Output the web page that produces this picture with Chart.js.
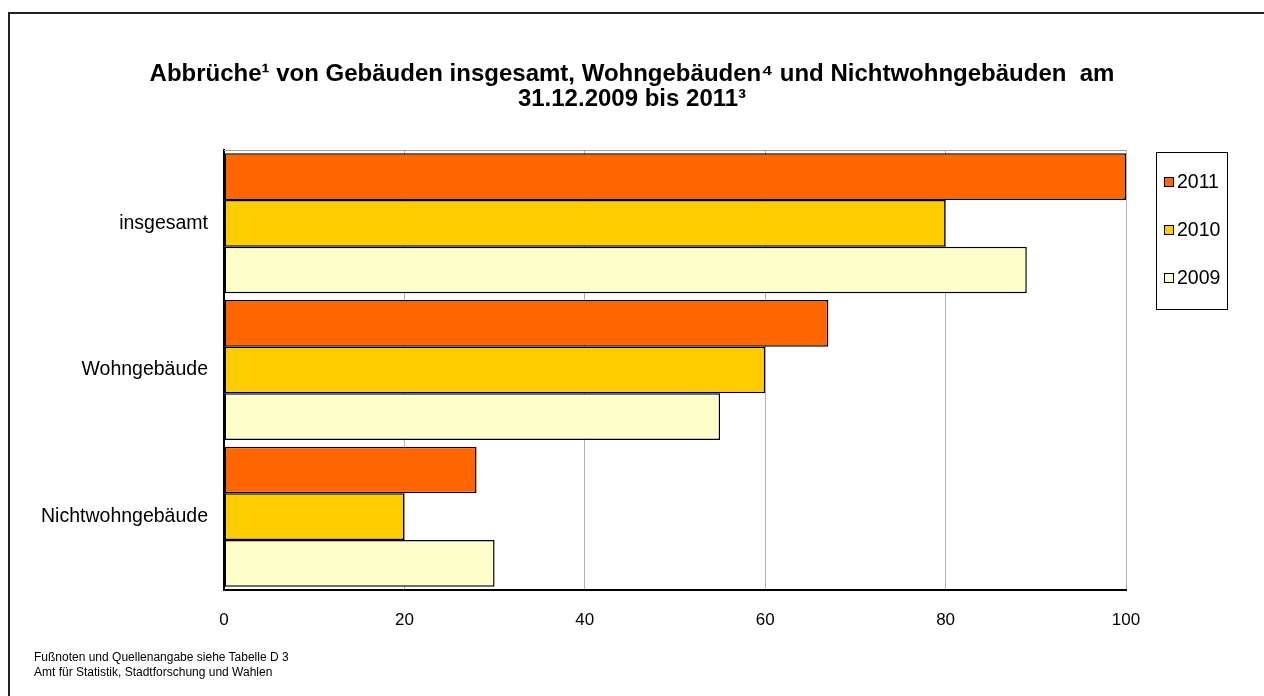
<!DOCTYPE html>
<html>
<head>
<meta charset="utf-8">
<script src="https://cdn.jsdelivr.net/npm/chart.js@4/dist/chart.umd.min.js"></script>
<style>
  html, body { margin: 0; padding: 0; background: #fff; overflow: hidden; }
  #frame { position: absolute; left: 8px; top: 12px; width: 1300px; height: 750px; border: 2px solid #222; box-sizing: border-box; }
  #wrap { position: absolute; left: 0; top: 0; width: 1264px; height: 696px; }
  .foot { position: absolute; left: 34px; font: 12px "Liberation Sans", Arial, sans-serif; color: #000; }
</style>
</head>
<body>
<div id="frame"></div>
<div id="wrap"><canvas id="myChart" width="1264" height="696"></canvas></div>
<div class="foot" style="top:650px">Fußnoten und Quellenangabe siehe Tabelle D 3</div>
<div class="foot" style="top:665px">Amt für Statistik, Stadtforschung und Wahlen</div>
<script>
var categories = ['insgesamt', 'Wohngebäude', 'Nichtwohngebäude'];
var years = ['2011', '2010', '2009'];
var values2011 = [100, 67, 28];
var values2010 = [80, 60, 20];
var values2009 = [89, 55, 30];
var xTicks = [0, 20, 40, 60, 80, 100];

var font = '"Liberation Sans", Arial, sans-serif';

// Rahmen oben am Diagramm + Legende mit Kasten
var extras = {
    id: 'extras',
    afterDraw: function(chart) {
        var c = chart.ctx, a = chart.chartArea;
        c.save();
        c.strokeStyle = '#a0a0a0';
        c.lineWidth = 1;
        c.beginPath();
        c.moveTo(a.left, a.top + 0.5);
        c.lineTo(a.right, a.top + 0.5);
        c.stroke();

        // legend
        c.strokeStyle = '#000';
        c.strokeRect(1156.5, 152.5, 71, 157);
        c.font = '19.5px ' + font;
        c.textBaseline = 'middle';
        chart.data.datasets.forEach(function(ds, i) {
            var y = 182 + i * 48;
            c.fillStyle = ds.backgroundColor;
            c.fillRect(1164, y - 5, 10, 10);
            c.strokeRect(1164.5, y - 4.5, 9, 9);
            c.fillStyle = '#000';
            c.fillText(ds.label, 1177, y + 1);
        });
        c.restore();
    }
};

var ctx = document.getElementById('myChart').getContext('2d');
var myChart = new Chart(ctx, {
    type: 'bar',
    data: {
        labels: categories,
        datasets: [
            { label: years[0], data: values2011, backgroundColor: '#FF6600' },
            { label: years[1], data: values2010, backgroundColor: '#FFCC00' },
            { label: years[2], data: values2009, backgroundColor: '#FFFFCC' }
        ]
    },
    options: {
        indexAxis: 'y',
        responsive: false,
        animation: false,
        layout: { padding: 0 },
        datasets: {
            bar: { borderColor: '#000', borderWidth: 1.5, categoryPercentage: 0.955, barPercentage: 1.0, borderSkipped: false }
        },
        plugins: {
            legend: { display: false },
            tooltip: { enabled: false },
            title: {
                display: true,
                text: ['Abbrüche\u00b9 von Gebäuden insgesamt, Wohngebäuden\u2074 und Nichtwohngebäuden  am', '31.12.2009 bis 2011\u00b3'],
                color: '#000',
                font: { family: font, size: 24, weight: 'bold', lineHeight: 1.05 },
                padding: { top: 62, bottom: 37.6 }
            }
        },
        scales: {
            x: {
                min: 0,
                max: 100,
                afterBuildTicks: function(axis) {
                    axis.ticks = xTicks.map(function(v) { return { value: v }; });
                },
                afterFit: function(axis) { axis.height = 106; },
                grid: { color: '#b0b0b0', drawTicks: false },
                border: { color: '#000', width: 2 },
                ticks: { color: '#000', padding: 20, font: { family: font, size: 17 } }
            },
            y: {
                afterFit: function(axis) { axis.width = 224; },
                grid: { display: false, drawTicks: false },
                border: { color: '#000', width: 2 },
                ticks: { color: '#000', padding: 16, font: { family: font, size: 19.5 } }
            },
            // leerer Platz rechts fuer die Legende
            legendSpace: {
                axis: 'y',
                type: 'category',
                position: 'right',
                afterFit: function(axis) { axis.width = 138; },
                grid: { display: false, drawTicks: false },
                border: { display: false },
                ticks: { display: false }
            }
        }
    },
    plugins: [extras]
});
</script>
</body>
</html>
